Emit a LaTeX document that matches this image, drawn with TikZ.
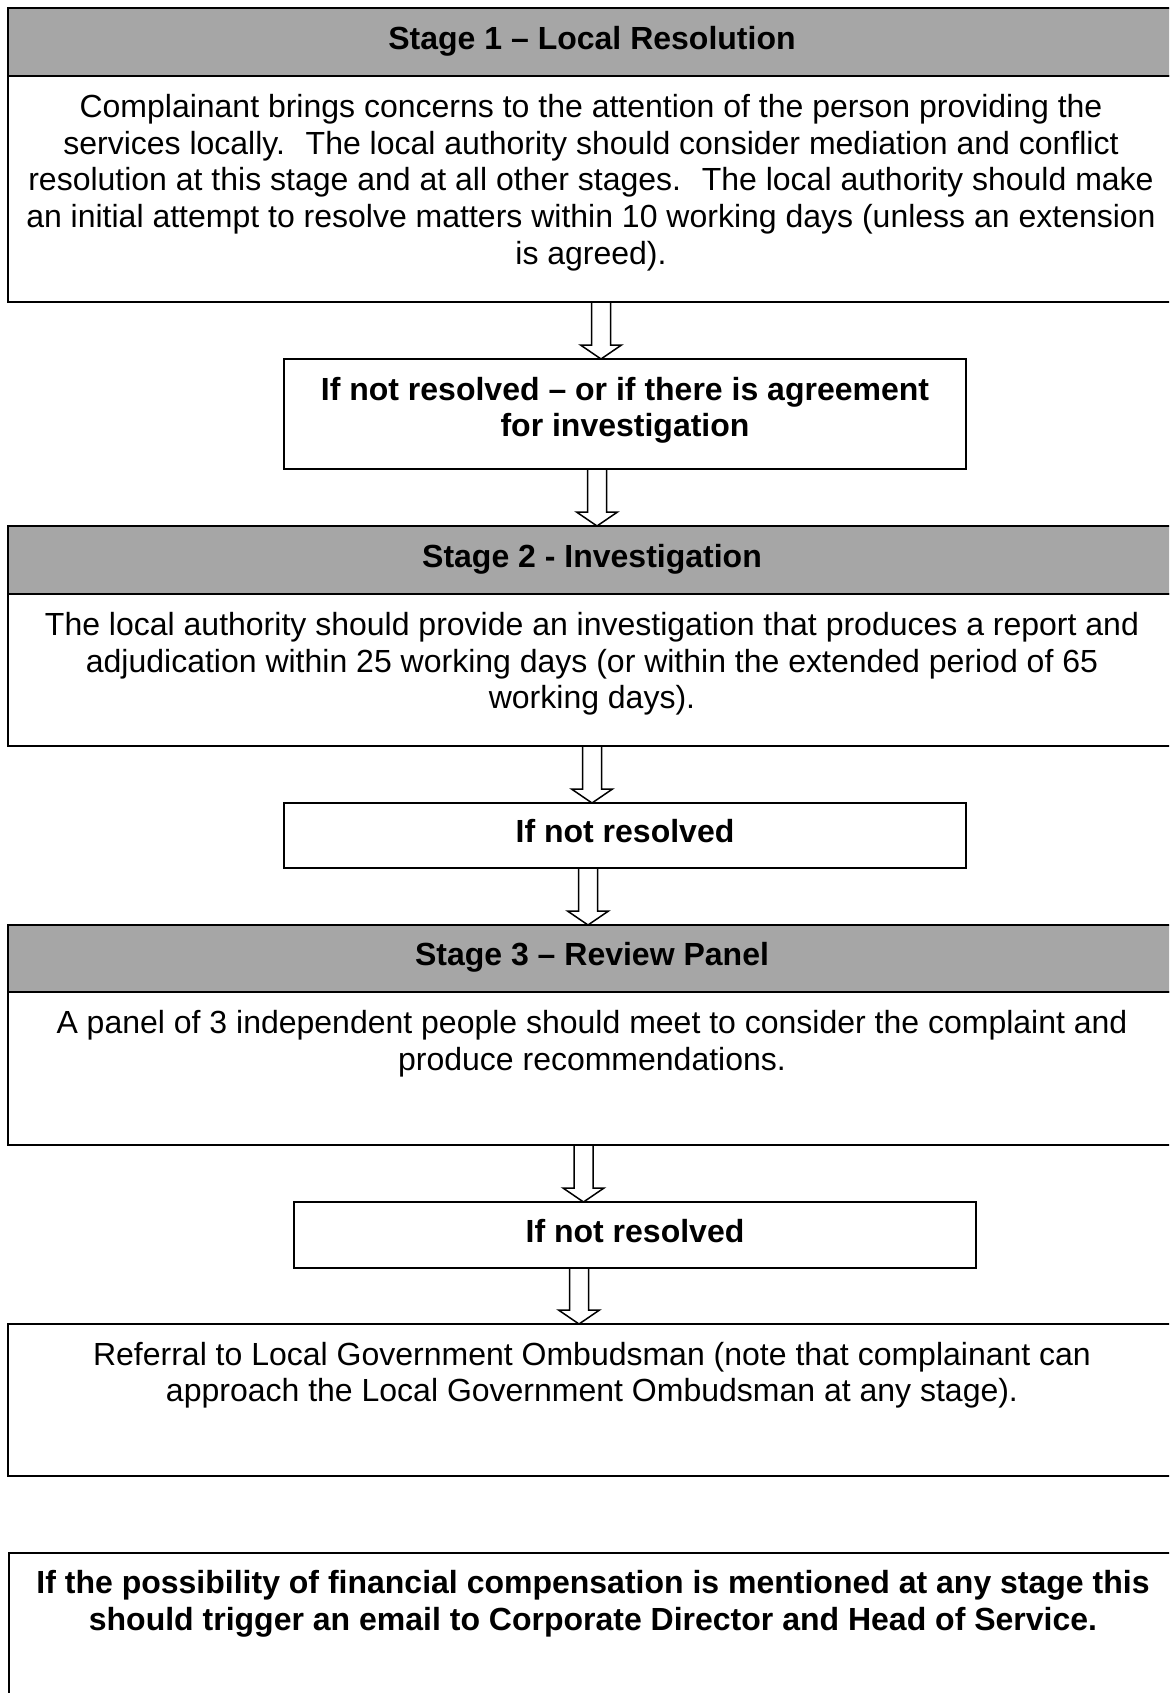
\documentclass[tikz,border=0pt]{standalone}
\usepackage{fontspec}
\setmainfont{Liberation Sans}
\usetikzlibrary{calc}
\definecolor{hdrgray}{RGB}{166,166,166}
\tikzset{
  bigbox/.style={draw=black, line width=2.6pt, fill=white, minimum width=1168pt, inner sep=0pt, outer sep=0pt},
  hdrbox/.style={bigbox, fill=hdrgray},
  smallbox/.style={draw=black, line width=2.0pt, fill=white, minimum width=682pt, inner sep=0pt, outer sep=0pt},
  txt/.style={align=center, inner sep=0pt, anchor=base, font=\fontsize{32}{36.7}\selectfont},
  btxt/.style={align=center, inner sep=0pt, anchor=base, font=\fontsize{32}{36.7}\selectfont\bfseries},
  barrow/.style={draw=black, line width=1.5pt, line join=miter},
}
\newcommand{\mkblockarrow}[2]{%
  \draw[barrow] let \p1=(#1), \p2=(#2) in
    (\x1-9.5pt,\y1) -- (\x1-9.5pt,\y2+14pt) -- (\x1-20.5pt,\y2+14pt) -- (\x2,\y2)
    -- (\x1+20.5pt,\y2+14pt) -- (\x1+9.5pt,\y2+14pt) -- (\x1+9.5pt,\y1);}
\begin{document}
\begin{tikzpicture}[x=1pt,y=1pt]
\fill[white] (0,0) rectangle (1169,-1693);
\useasboundingbox (0,0) rectangle (1169,-1693);
\clip (0,0) rectangle (1169,-1693);
% boxes
\node[bigbox, minimum height=226pt] (B1) at (592,-189) {};
\node[hdrbox, minimum height=68pt] (H1) at (592,-42) {};
\node[smallbox, minimum height=110pt] (S1) at (625,-414) {};
\node[bigbox, minimum height=152pt] (B2) at (592,-670) {};
\node[hdrbox, minimum height=68pt] (H2) at (592,-560) {};
\node[smallbox, minimum height=65pt] (S2) at (625,-835.5) {};
\node[bigbox, minimum height=153pt] (B3) at (592,-1068.5) {};
\node[hdrbox, minimum height=67pt] (H3) at (592,-958.5) {};
\node[smallbox, minimum height=66pt] (S3) at (635,-1235) {};
\node[bigbox, minimum height=152pt] (R) at (592,-1400) {};
\node[bigbox, minimum width=1167pt, minimum height=206pt] (F) at (592.5,-1656) {};
% texts (anchor=base is the baseline of the last line)
\node[btxt] (tH1) at (592,-49.3) {Stage 1 – Local Resolution};
\node[txt] (tB1) at (591,-264.3) {Complainant brings concerns to the attention of the person providing the\\
services locally.~ The local authority should consider mediation and conflict\\
resolution at this stage and at all other stages.~ The local authority should make\\
an initial attempt to resolve matters within 10 working days (unless an extension\\
is agreed).};
\node[btxt] (tS1) at (625,-436.8) {If not resolved – or if there is agreement\\for investigation};
\node[btxt] (tH2) at (592,-567.4) {Stage 2 - Investigation};
\node[txt] (tB2) at (592,-708.8) {The local authority should provide an investigation that produces a report and\\
adjudication within 25 working days (or within the extended period of 65\\
working days).};
\node[btxt] (tS2) at (625,-842.6) {If not resolved};
\node[btxt] (tH3) at (592,-965.7) {Stage 3 – Review Panel};
\node[txt] (tB3) at (592,-1070.4) {A panel of 3 independent people should meet to consider the complaint and\\
produce recommendations.};
\node[btxt] (tS3) at (635,-1242) {If not resolved};
\node[txt] (tR) at (592,-1401.8) {Referral to Local Government Ombudsman (note that complainant can\\
approach the Local Government Ombudsman at any stage).};
\node[btxt] (tF) at (593,-1630.6) {If the possibility of financial compensation is mentioned at any stage this\\
should trigger an email to Corporate Director and Head of Service.};
% arrow columns
\coordinate (ax1) at (601,0);
\coordinate (ax2) at (597,0);
\coordinate (ax3) at (592,0);
\coordinate (ax4) at (588,0);
\coordinate (ax5) at (583.5,0);
\coordinate (ax6) at (579,0);
\mkblockarrow{B1.south -| ax1}{S1.north -| ax1}
\mkblockarrow{S1.south -| ax2}{H2.north -| ax2}
\mkblockarrow{B2.south -| ax3}{S2.north -| ax3}
\mkblockarrow{S2.south -| ax4}{H3.north -| ax4}
\mkblockarrow{B3.south -| ax5}{S3.north -| ax5}
\mkblockarrow{S3.south -| ax6}{R.north -| ax6}
\end{tikzpicture}
\end{document}
